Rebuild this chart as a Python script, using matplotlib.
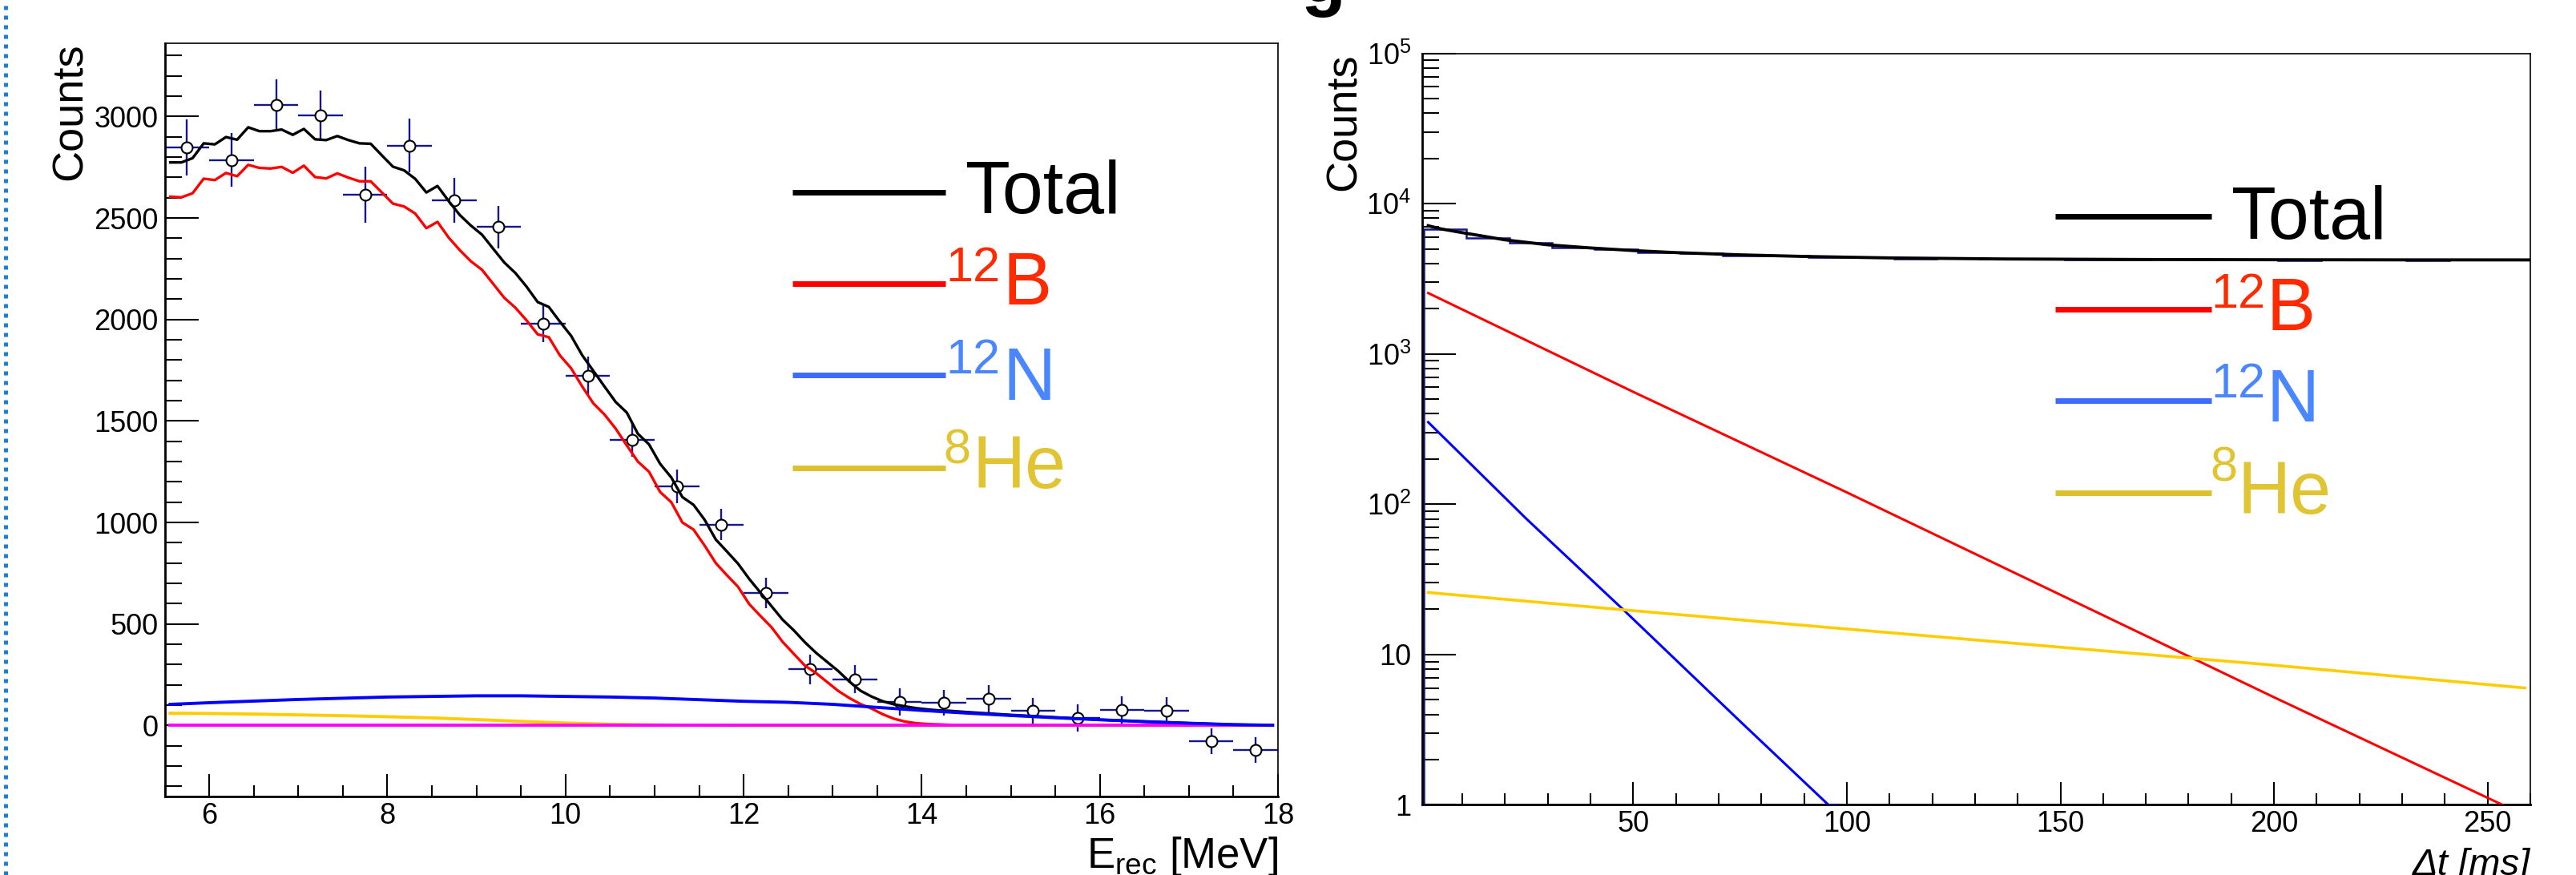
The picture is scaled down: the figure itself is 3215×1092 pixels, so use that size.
import matplotlib
matplotlib.use('Agg')
import matplotlib.pyplot as plt
from matplotlib.lines import Line2D
from matplotlib.ticker import MultipleLocator, LogLocator, NullFormatter, FuncFormatter
import numpy as np

plt.rcParams['font.family'] = ['Liberation Sans', 'DejaVu Sans']
plt.rcParams['mathtext.fontset'] = 'custom'
plt.rcParams['mathtext.rm'] = 'Liberation Sans'
plt.rcParams['mathtext.it'] = 'Liberation Sans:italic'

# ---- left panel: energy spectrum ----
# data points (bin centres, counts, errors)
e_pts = [5.75, 6.25, 6.75, 7.25, 7.75, 8.25, 8.75, 9.25, 9.75, 10.25, 10.75, 11.25,
         11.75, 12.25, 12.75, 13.25, 13.75, 14.25, 14.75, 15.25, 15.75, 16.25, 16.75,
         17.25, 17.75]
cnt_pts = [2848, 2785, 3058, 3007, 2615, 2856, 2587, 2456, 1979, 1723, 1408, 1177,
           990, 652, 276, 228, 116, 112, 133, 72, 37, 76, 74, -77, -121]
err_pts = [137, 132, 125, 121, 138, 132, 110, 104, 91, 93, 85, 82,
           77, 74, 73, 70, 67, 65, 67, 65, 67, 68, 66, 63, 63]

# fine-binned fit components (0.125 MeV bins)
e_fine = np.arange(5.5625, 14.4, 0.125)
total_fine = [2774, 2774, 2795, 2868, 2863, 2899, 2886, 2947, 2928, 2928, 2936, 2910,
              2939, 2888, 2884, 2904, 2884, 2868, 2866, 2809, 2753, 2735, 2693, 2626,
              2658, 2584, 2515, 2463, 2418, 2349, 2281, 2229, 2162, 2086, 2062, 1989,
              1920, 1824, 1747, 1670, 1594,
              1542, 1437, 1385, 1289, 1222, 1125, 1087, 1013, 916, 857, 797, 722, 655,
              588, 521, 469, 410, 358, 313, 268, 216, 171, 142, 119, 104, 94, 85, 79,
              74, 72]
b12_fine = [2605, 2602, 2622, 2694, 2687, 2722, 2706, 2762, 2747, 2744, 2752, 2723,
            2758, 2702, 2695, 2720, 2699, 2681, 2681, 2626, 2571, 2557, 2522, 2450,
            2481, 2404, 2342, 2287, 2245, 2176, 2107, 2058, 1996, 1927, 1913, 1823,
            1760, 1670, 1587, 1532, 1463,
            1380, 1300, 1250, 1150, 1100, 1000, 965, 886, 800, 740, 683, 598, 540,
            484, 412, 353, 295, 258, 214, 170, 135, 105, 83, 55, 33, 19, 11, 7, 5, 3]
e_tail = [14.5, 15.0, 15.5, 16.0, 16.5, 17.0, 17.5, 17.94]
total_tail = [66, 52, 40, 28, 19, 11, 4, 1]
b12_tail = [1, 0, 0, 0, 0, 0, 0, 0]

e_n12 = [5.56, 6.0, 6.5, 7.0, 7.5, 8.0, 8.5, 9.0, 9.5, 10.0, 10.5, 11.0, 11.5, 12.0,
         12.5, 13.0, 13.5, 14.0, 14.5, 15.0, 15.5, 16.0, 16.5, 17.0, 17.5, 17.94]
n12_e = [104, 112, 120, 128, 134, 140, 143, 146, 146, 143, 140, 135, 127, 119,
         114, 104, 89, 74, 61, 49, 38, 28, 19, 11, 4, 1]
e_he8 = [5.56, 6.0, 6.5, 7.0, 7.5, 8.0, 8.5, 9.0, 9.5, 10.0, 10.5, 11.0, 11.5, 12.0, 17.94]
he8_e = [60, 59, 56, 52, 48, 43, 37, 29, 20, 12, 6, 3, 1, 0, 0]
e_zero = [5.56, 17.94]
zero_e = [0, 0]

# ---- right panel: time distribution ----
t_edges = np.arange(1, 262, 10)
hist_t = [6800, 5950, 5520, 5120, 4960, 4740, 4690, 4530, 4510, 4400, 4410, 4320,
          4330, 4280, 4300, 4240, 4270, 4290, 4230, 4250, 4220, 4250, 4240, 4215,
          4235, 4245]
t_total = [2, 5, 10, 20, 30, 40, 50, 60, 75, 90, 110, 137, 170, 200, 230, 260]
total_t = [7140, 6800, 6420, 5750, 5330, 5080, 4880, 4730, 4570, 4460, 4360, 4290,
           4255, 4240, 4232, 4228]
t_b12 = [2, 50, 100, 150, 200, 253.5]
b12_t = [2546, 560, 120, 25, 5.2, 1.0]
t_n12 = [2, 25, 48, 75, 95.7, 97.8]
n12_t = [352, 80, 19.5, 3.6, 1.0, 1.0]
t_he8 = [2, 50, 100, 150, 200, 258.7]
he8_t = [25.9, 19.6, 14.8, 11.2, 8.5, 6.0]

legend_names = ['Total', 'B', 'N', 'He']
legend_sup = ['', '12', '12', '8']
legend_line_col = ['black', '#ff0000', '#3d6bff', '#dcc12f']
legend_text_col = ['black', '#ff2a00', '#4a86ff', '#e0c431']

fig = plt.figure(figsize=(32.16, 10.92), dpi=100)

# blue dotted separator at the left edge
fig.add_artist(Line2D([7.5 / 3216, 7.5 / 3216], [0, 1], transform=fig.transFigure,
                      color='#1a7fd6', lw=3.6, linestyle=(0, (1.0, 1.4))))
# cropped panel letter at the top
fig.text(1623 / 3216, 1 - 3 / 1092, 'g', fontsize=66, fontweight='bold',
         va='baseline', ha='left')

ax1 = fig.add_axes([0.06393, 0.08974, 0.43203, 0.86126])
ax2 = fig.add_axes([0.55193, 0.08013, 0.43004, 0.85879])

# left panel
ax1.errorbar(e_pts, cnt_pts, yerr=err_pts, xerr=0.25, fmt='o', ms=10, mfc='white',
             mec='black', mew=1.5, ecolor='#16168c', elinewidth=1.7, capsize=0, zorder=2)
ax1.plot(np.concatenate([e_fine, e_tail]), total_fine + total_tail, color='black', lw=2.4, zorder=3)
ax1.plot(np.concatenate([e_fine, e_tail]), b12_fine + b12_tail, color='#ff0000', lw=2.4, zorder=3)
ax1.plot(e_he8, he8_e, color='#ffcc00', lw=2.8, zorder=4)
ax1.plot(e_n12, n12_e, color='#0000ff', lw=2.8, zorder=5)
ax1.plot(e_zero, zero_e, color='#ff00ff', lw=2.8, zorder=4)
ax1.set_xlim(5.5, 18)
ax1.set_ylim(-350, 3363)
ax1.xaxis.set_major_locator(MultipleLocator(2))
ax1.xaxis.set_minor_locator(MultipleLocator(0.5))
ax1.yaxis.set_major_locator(MultipleLocator(500))
ax1.yaxis.set_minor_locator(MultipleLocator(100))

# right panel
ax2.stairs(hist_t, t_edges, color='#16168c', lw=1.8, zorder=2)
ax2.plot(t_total, total_t, color='black', lw=2.8, zorder=3)
ax2.plot(t_b12, b12_t, color='#ff0000', lw=2.2, zorder=3)
ax2.plot(t_n12, n12_t, color='#0000ff', lw=2.2, zorder=3)
ax2.plot(t_he8, he8_t, color='#ffcc00', lw=2.6, zorder=3)
ax2.set_yscale('log')
ax2.set_xlim(0.6, 260)
ax2.set_ylim(1, 1e5)
ax2.xaxis.set_major_locator(MultipleLocator(50))
ax2.xaxis.set_minor_locator(MultipleLocator(10))
ax2.yaxis.set_major_locator(LogLocator(base=10, numticks=10))
ax2.yaxis.set_minor_locator(LogLocator(base=10, subs=np.arange(2, 10), numticks=20))
ax2.yaxis.set_minor_formatter(NullFormatter())


def log_label(v, pos):
    if v < 5:
        return '1'
    if v < 50:
        return '10'
    return r'$\mathregular{10^{%d}}$' % int(round(np.log10(v)))


ax2.yaxis.set_major_formatter(FuncFormatter(log_label))

for ax in (ax1, ax2):
    ax.tick_params(which='both', direction='in', top=False, right=False,
                   labelsize=26, width=1.5, color='black')
    ax.tick_params(axis='x', which='major', length=20, pad=5)
    ax.tick_params(axis='x', which='minor', length=10)
    ax.tick_params(axis='y', which='major', length=30, pad=6)
    ax.tick_params(axis='y', which='minor', length=15)
    for side in ('left', 'bottom'):
        ax.spines[side].set_linewidth(2.0)
    for side in ('top', 'right'):
        ax.spines[side].set_linewidth(1.2)
ax2.tick_params(axis='y', which='major', pad=10)

# axis titles
ax1.text(-0.0666, 1.0, 'Counts', rotation=90, fontsize=39, ha='right', va='top',
         transform=ax1.transAxes)
ax2.text(-0.052, 1.0, 'Counts', rotation=90, fontsize=39, ha='right', va='top',
         transform=ax2.transAxes)
ax1.text(1.0, -0.0946, r'$\mathregular{E_{rec}}$ [MeV]', fontsize=38, ha='right',
         va='baseline', transform=ax1.transAxes, clip_on=False)
ax2.text(1.0, -0.0938, 'Δt [ms]', fontsize=34, style='italic', ha='right',
         va='baseline', transform=ax2.transAxes, clip_on=False)

# legends drawn as sample lines + labels
leg_cfg = {
    ax1: dict(x0=0.5638, x1=0.7013, line_y=[0.8017, 0.6805, 0.5593, 0.4359],
              base_y=[0.7740, 0.6528, 0.5264, 0.4089],
              sup_y=[0, 0.6837, 0.5614, 0.4413],
              sup_x=[0, 0.7013, 0.7013, 0.6995],
              txt_x=[0.7195, 0.7525, 0.7525, 0.7251]),
    ax2: dict(x0=0.5712, x1=0.7122, line_y=[0.7832, 0.6596, 0.5380, 0.4153],
              base_y=[0.7534, 0.6318, 0.5102, 0.3871],
              sup_y=[0, 0.6617, 0.5417, 0.4303],
              sup_x=[0, 0.7115, 0.7115, 0.7108],
              txt_x=[0.7303, 0.7621, 0.7621, 0.7354]),
}
for ax, c in leg_cfg.items():
    for i, name in enumerate(legend_names):
        ax.plot([c['x0'], c['x1']], [c['line_y'][i]] * 2, color=legend_line_col[i],
                lw=5, transform=ax.transAxes, solid_capstyle='butt', zorder=6)
        ax.text(c['txt_x'][i], c['base_y'][i], name, fontsize=66, color=legend_text_col[i],
                ha='left', va='baseline', transform=ax.transAxes, zorder=6)
        if legend_sup[i]:
            ax.text(c['sup_x'][i], c['sup_y'][i], legend_sup[i], fontsize=44,
                    color=legend_text_col[i], ha='left', va='baseline',
                    transform=ax.transAxes, zorder=6)

fig.savefig('out.png', dpi=100)
plt.close(fig)
